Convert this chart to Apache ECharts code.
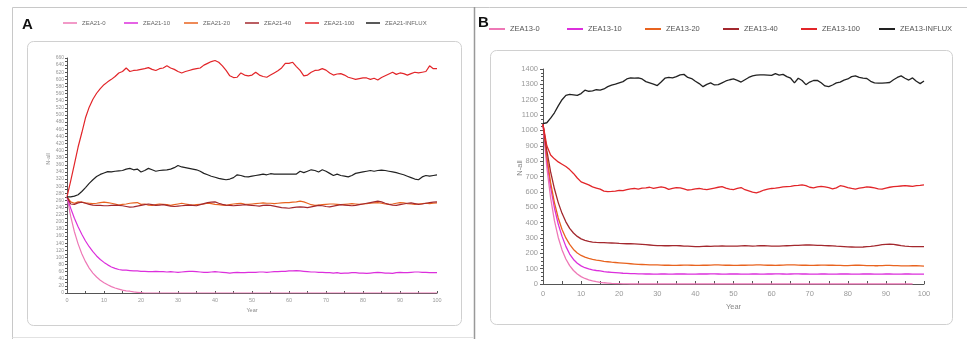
<!DOCTYPE html>
<html>
<head>
<meta charset="utf-8">
<script src="https://cdn.jsdelivr.net/npm/echarts@6/dist/echarts.min.js"></script>
<style>
  html, body { margin: 0; padding: 0; background: #fff; }
  #chart { width: 967px; height: 339px; }
</style>
</head>
<body>
<div id="chart"></div>
<script>
// x values, shared by both panels
const years = [0,1,2,3,4,5,6,7,8,9,10,11,12,13,14,15,16,17,18,19,20,21,22,23,24,25,26,27,28,29,30,
  31,32,33,34,35,36,37,38,39,40,41,42,43,44,45,46,47,48,49,50,51,52,53,54,55,56,57,58,59,60,
  61,62,63,64,65,66,67,68,69,70,71,72,73,74,75,76,77,78,79,80,81,82,83,84,85,86,87,88,89,90,
  91,92,93,94,95,96,97,98,99,100];

// panel A - ZEA21
const zea21_0 = [270,215,172,138,110,88,70,56,45,36,29,23,18,14,11,8,6,5,3,2,1,
  0,0,0,0,0,0,0,0,0,0,0,0,0,0,0,0,0,0,0,0,0,0,0,0,0,0,0,0,0,0,0,0,0,0,0,0,0,0,0,0,
  0,0,0,0,0,0,0,0,0,0,0,0,0,0,0,0,0,0,0,0,0,0,0,0,0,0,0,0,0,0,0,0,0,0,0,0,0,0,0,0];
const zea21_10 = [270,238,210,186,165,146,130,116,104,94,86,79,73,69,66,64,64,63,62,62,61,
  61,60,60,61,60,60,59,60,59,58,59,60,61,61,60,59,58,58,59,60,59,58,57,56,57,58,57,57,58,58,
  58,59,59,58,59,60,60,61,61,62,62,63,62,61,60,59,59,58,58,57,57,56,57,55,56,56,57,57,56,56,
  55,56,57,58,57,56,56,55,57,58,57,57,58,59,59,58,58,57,57,57];
const zea21_20 = [270,256,252,256,255,253,252,251,252,254,255,254,252,250,247,249,250,252,253,254,249,
  250,247,246,248,250,249,248,246,248,250,252,250,248,247,248,249,250,252,251,249,248,247,246,248,250,
  251,252,250,249,250,251,252,253,252,252,251,252,253,254,254,255,256,258,256,252,248,246,247,248,249,
  250,250,249,248,249,250,251,250,249,250,251,252,253,254,252,250,249,250,252,254,253,251,250,249,250,
  251,252,251,252,253];
const zea21_40 = [270,250,249,253,255,252,249,247,246,246,245,245,246,247,246,245,243,241,242,244,246,
  248,250,248,246,247,248,246,244,243,244,245,246,247,246,245,248,251,254,255,256,252,249,247,246,245,
  246,247,248,247,246,245,244,246,247,246,244,242,240,239,238,240,241,242,241,240,242,244,246,245,243,
  242,244,246,248,247,246,245,246,248,250,252,254,256,258,256,252,249,247,246,248,250,252,253,251,249,
  250,252,254,255,256];
const zea21_100 = [270,315,362,410,450,492,522,544,561,574,585,593,600,608,618,622,632,622,625,626,628,
  630,633,628,625,630,632,638,632,628,622,618,622,625,628,630,632,640,645,650,653,648,638,625,610,605,
  606,618,612,610,612,620,612,608,606,612,618,624,632,645,645,648,636,625,610,612,620,625,626,630,626,
  618,612,615,616,612,606,603,600,602,604,604,600,603,598,605,610,615,620,614,618,616,612,616,620,618,
  620,622,638,630,630];
const zea21_influx = [270,270,272,276,285,296,308,318,327,333,337,341,340,342,343,344,348,350,346,348,340,
  344,350,346,342,344,345,346,348,352,358,354,352,350,348,346,342,336,332,328,325,322,320,318,320,324,
  332,330,327,326,328,330,332,334,332,335,334,334,334,334,334,334,334,342,338,342,346,344,340,346,342,
  336,330,334,330,328,326,330,336,338,340,342,344,342,344,345,344,342,340,338,335,332,328,324,320,318,
  326,330,328,330,332];

// panel B - ZEA13
const zea13_0 = [1040,760,560,412,303,222,163,120,88,65,48,36,27,20,15,11,8,6,4,3,2,1,1,
  0,0,0,0,0,0,0,0,0,0,0,0,0,0,0,0,0,0,0,0,0,0,0,0,0,0,0,0,0,0,0,0,0,0,0,0,0,0,0,0,
  0,0,0,0,0,0,0,0,0,0,0,0,0,0,0,0,0,0,0,0,0,0,0,0,0,0,0,0,0,0,0,0,0,0,0];
const zea13_10 = [1040,810,630,495,390,310,245,195,160,135,118,106,98,92,88,85,81,78,76,74,72,
  70,69,68,67,66,66,65,65,64,64,65,65,64,64,65,66,65,64,64,64,65,65,65,66,66,65,64,64,65,65,
  65,64,64,64,65,65,64,64,65,65,66,66,65,64,65,66,66,65,65,64,64,64,65,65,64,64,64,65,66,65,
  64,64,64,65,65,65,64,64,64,65,65,64,64,64,65,65,64,64,64,64];
const zea13_20 = [1040,830,660,530,430,355,300,258,225,202,186,175,167,161,156,152,148,145,142,140,138,
  136,134,132,130,128,127,126,125,124,124,123,122,122,121,121,122,123,123,122,121,121,122,122,123,124,
  124,123,122,122,121,121,122,122,123,123,124,124,123,122,122,121,122,123,124,125,124,123,122,122,121,
  121,122,123,123,122,122,121,121,120,120,121,122,122,121,120,120,119,119,120,121,121,120,119,118,118,
  118,119,119,118,117];
const zea13_40 = [1040,870,730,620,530,460,405,362,332,310,294,284,277,273,271,270,269,268,267,266,264,
  263,262,262,261,260,258,256,254,252,250,250,249,249,250,250,249,247,246,245,244,244,245,246,245,246,
  247,248,247,246,246,247,248,249,248,247,248,250,249,248,247,246,247,248,249,250,251,252,253,254,254,
  253,252,251,250,249,248,246,245,244,242,241,240,240,241,243,245,248,252,256,258,260,258,254,250,247,
  245,244,244,244,244];
const zea13_100 = [1040,900,840,815,795,780,765,745,720,690,665,655,645,632,625,618,605,602,603,605,610,
  608,614,620,622,618,624,626,630,622,628,632,628,616,622,628,626,620,612,615,620,622,618,615,620,625,
  630,634,625,618,615,622,628,614,606,598,594,602,612,618,622,624,628,632,634,636,640,642,646,640,630,
  626,632,636,632,628,620,626,640,636,628,622,618,624,628,632,630,626,620,618,625,630,634,636,638,640,
  638,636,640,642,645];
const zea13_influx = [1045,1050,1080,1115,1160,1200,1228,1235,1232,1228,1240,1262,1255,1258,1265,1262,1270,1285,1295,1302,1310,
  1318,1335,1342,1340,1342,1335,1318,1310,1302,1292,1315,1340,1345,1342,1350,1362,1365,1345,1338,1320,
  1305,1285,1300,1310,1296,1298,1310,1322,1330,1335,1326,1315,1330,1345,1355,1360,1362,1362,1360,1358,
  1370,1360,1365,1350,1340,1310,1340,1325,1298,1315,1325,1326,1310,1290,1285,1296,1310,1315,1328,1335,
  1350,1355,1345,1340,1338,1320,1310,1308,1308,1310,1312,1330,1345,1355,1340,1328,1342,1320,1305,1322];

const colors = ['#ee78b6', '#dc2fdc', '#e8631f', '#a3282e', '#e22529', '#222222'];
const namesA = ['ZEA21-0', 'ZEA21-10', 'ZEA21-20', 'ZEA21-40', 'ZEA21-100', 'ZEA21-INFLUX'];
const namesB = ['ZEA13-0', 'ZEA13-10', 'ZEA13-20', 'ZEA13-40', 'ZEA13-100', 'ZEA13-INFLUX'];
const valuesA = [zea21_0, zea21_10, zea21_20, zea21_40, zea21_100, zea21_influx];
const valuesB = [zea13_0, zea13_10, zea13_20, zea13_40, zea13_100, zea13_influx];

// legend item x positions (one legend each so the columns line up like the original)
const legendLeftA = [63, 124, 184, 245, 305, 366];
const legendLeftB = [489, 567, 645, 723, 801, 879];

var pairs = (vals) => years.map((y, i) => [y, vals[i]]);

var series = [];
namesA.forEach((name, i) => {
    series.push({
        name: name, type: 'line', xAxisIndex: 0, yAxisIndex: 0,
        showSymbol: false, data: pairs(valuesA[i]),
        lineStyle: { width: 1.2, color: colors[i] }, itemStyle: { color: colors[i] }
    });
});
namesB.forEach((name, i) => {
    series.push({
        name: name, type: 'line', xAxisIndex: 1, yAxisIndex: 1,
        showSymbol: false, data: pairs(valuesB[i]),
        lineStyle: { width: 1.3, color: colors[i] }, itemStyle: { color: colors[i] }
    });
});

var legends = [];
namesA.forEach((name, i) => {
    legends.push({
        data: [name], left: legendLeftA[i], top: 20, icon: 'rect',
        itemWidth: 14, itemHeight: 1.5, itemGap: 0, padding: 0,
        textStyle: { fontSize: 6, color: '#666', fontFamily: 'Liberation Sans' }
    });
});
namesB.forEach((name, i) => {
    legends.push({
        data: [name], left: legendLeftB[i], top: 25, icon: 'rect',
        itemWidth: 16, itemHeight: 2, itemGap: 0, padding: 0,
        textStyle: { fontSize: 7.5, color: '#555', fontFamily: 'Liberation Sans' }
    });
});

var axisLineStyle = { show: true, lineStyle: { color: '#555', width: 1 } };
var plainNumber = (v) => String(v);

const option = {
    animation: false,
    backgroundColor: '#fff',
    textStyle: { fontFamily: 'Liberation Sans' },
    legend: legends,
    grid: [
        { left: 67, right: 530, top: 58, bottom: 46 },
        { left: 543, right: 43, top: 69, bottom: 55 }
    ],
    xAxis: [
        {
            type: 'value', gridIndex: 0, min: 0, max: 100, interval: 10,
            name: 'Year', nameLocation: 'middle', nameGap: 11,
            nameTextStyle: { fontSize: 5.5, color: '#888' },
            axisLine: axisLineStyle,
            axisTick: { show: true, inside: true, length: 2, lineStyle: { color: '#555' } },
            minorTick: { show: true, splitNumber: 2, length: 2, lineStyle: { color: '#555' } },
            axisLabel: { fontSize: 5.5, color: '#999', margin: 4, formatter: plainNumber },
            splitLine: { show: false }
        },
        {
            type: 'value', gridIndex: 1, min: 0, max: 100, interval: 10,
            name: 'Year', nameLocation: 'middle', nameGap: 15,
            nameTextStyle: { fontSize: 7.5, color: '#888' },
            axisLine: axisLineStyle,
            axisTick: { show: true, inside: true, length: 3, lineStyle: { color: '#555' } },
            minorTick: { show: true, splitNumber: 2, length: 3, lineStyle: { color: '#555' } },
            axisLabel: { fontSize: 7.5, color: '#999', margin: 6, formatter: plainNumber },
            splitLine: { show: false }
        }
    ],
    yAxis: [
        {
            type: 'value', gridIndex: 0, min: 0, max: 660, interval: 20,
            axisLine: axisLineStyle,
            axisTick: { show: true, inside: false, length: 2, lineStyle: { color: '#555' } },
            minorTick: { show: true, splitNumber: 2, length: 2, lineStyle: { color: '#555' } },
            axisLabel: { fontSize: 5, color: '#999', margin: 3, formatter: plainNumber },
            splitLine: { show: false }
        },
        {
            type: 'value', gridIndex: 1, min: 0, max: 1400, interval: 100,
            axisLine: axisLineStyle,
            axisTick: { show: true, inside: false, length: 3, lineStyle: { color: '#555' } },
            minorTick: { show: true, splitNumber: 4, length: 2, lineStyle: { color: '#555' } },
            axisLabel: { fontSize: 7.5, color: '#999', margin: 5, formatter: plainNumber },
            splitLine: { show: false }
        }
    ],
    graphic: [
        // outer frames
        { type: 'line', shape: { x1: 12.5, y1: 7.5, x2: 967, y2: 7.5 }, style: { stroke: '#c8c8c8', lineWidth: 1 } },
        { type: 'line', shape: { x1: 12.5, y1: 7.5, x2: 12.5, y2: 339 }, style: { stroke: '#c8c8c8', lineWidth: 1 } },
        { type: 'line', shape: { x1: 474.5, y1: 7, x2: 474.5, y2: 339 }, style: { stroke: '#999', lineWidth: 1.5 } },
        { type: 'line', shape: { x1: 12.5, y1: 337.5, x2: 474, y2: 337.5 }, style: { stroke: '#e2e2e2', lineWidth: 1 } },
        // inner rounded boxes
        { type: 'rect', shape: { x: 27.5, y: 41.5, width: 434, height: 284, r: 6 }, style: { fill: 'none', stroke: '#d0d0d0', lineWidth: 1 } },
        { type: 'rect', shape: { x: 490.5, y: 50.5, width: 462, height: 274, r: 6 }, style: { fill: 'none', stroke: '#d0d0d0', lineWidth: 1 } },
        // panel letters
        { type: 'text', left: 22, top: 17, style: { text: 'A', font: 'bold 15px "Liberation Sans"', fill: '#111' } },
        { type: 'text', left: 478, top: 15, style: { text: 'B', font: 'bold 15px "Liberation Sans"', fill: '#111' } },
        // y axis names
        { type: 'text', x: 48, y: 159, rotation: Math.PI / 2, style: { text: 'N-all', font: '5.5px "Liberation Sans"', fill: '#888', align: 'center', verticalAlign: 'middle' } },
        { type: 'text', x: 520, y: 168, rotation: Math.PI / 2, style: { text: 'N-all', font: '7.5px "Liberation Sans"', fill: '#888', align: 'center', verticalAlign: 'middle' } }
    ],
    series: series
};

var chart = echarts.init(document.getElementById('chart'));
chart.setOption(option);
</script>
</body>
</html>
